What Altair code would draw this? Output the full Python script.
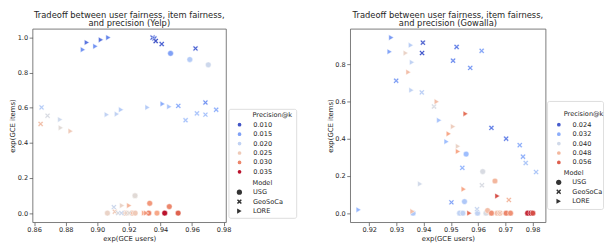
import altair as alt
import pandas as pd

# ---------------- Yelp ----------------
yelp_model = (["USG"] * 15 + ["GeoSoCa"] * 19 + ["LORE"] * 18)
yelp_x = [0.9464, 0.9586, 0.9703, 0.9239, 0.9332, 0.9456, 0.9064, 0.9173, 0.9188, 0.9219,
          0.9240, 0.9326, 0.9378, 0.9427, 0.9512,
          0.9350, 0.9362, 0.9370, 0.9408, 0.9622, 0.8647, 0.8685, 0.8641, 0.9513, 0.9559,
          0.9631, 0.9685, 0.9685, 0.9753, 0.9105, 0.9111, 0.9132, 0.9153, 0.9202,
          0.8909, 0.8934, 0.8988, 0.9023, 0.9070, 0.8765, 0.8769, 0.8831, 0.9060, 0.9124,
          0.9151, 0.9318, 0.9414, 0.9456, 0.9157, 0.9202, 0.9297, 0.9310]
yelp_y = [0.910, 0.875, 0.845, 0.099, 0.056, 0.037, 0.000, 0.000, 0.000, 0.000,
          0.000, 0.000, 0.000, 0.000, 0.000,
          1.000, 0.995, 0.980, 0.963, 0.938, 0.602, 0.555, 0.508, 0.611, 0.529,
          0.568, 0.630, 0.561, 0.589, 0.034, 0.008, 0.000, 0.000, 0.000,
          0.931, 0.972, 0.950, 0.987, 1.000, 0.533, 0.486, 0.467, 0.561, 0.564,
          0.589, 0.602, 0.622, 0.606, 0.043, 0.043, 0.000, 0.000]
yelp_prec = [0.015, 0.019, 0.021, 0.023, 0.029, 0.030, 0.024, 0.025, 0.024, 0.027,
             0.025, 0.030, 0.028, 0.035, 0.032,
             0.011, 0.012, 0.010, 0.011, 0.011, 0.019, 0.022, 0.026, 0.016, 0.018,
             0.018, 0.014, 0.018, 0.016, 0.021, 0.025, 0.022, 0.021, 0.023,
             0.014, 0.012, 0.014, 0.012, 0.013, 0.021, 0.023, 0.025, 0.020, 0.020,
             0.019, 0.019, 0.016, 0.018, 0.024, 0.027, 0.028, 0.029]

# ---------------- Gowalla ----------------
gow_model = (["USG"] * 18 + ["GeoSoCa"] * 21 + ["LORE"] * 21)
gow_x = [0.9556, 0.9617, 0.9662, 0.9550, 0.9361, 0.9532, 0.9544, 0.9598, 0.9629, 0.9635,
         0.9649, 0.9670, 0.9680, 0.9703, 0.9719, 0.9782, 0.9794, 0.9801,
         0.9397, 0.9394, 0.9521, 0.9613, 0.9508, 0.9571, 0.9299, 0.9393, 0.9438, 0.9649,
         0.9703, 0.9753, 0.9765, 0.9775, 0.9813, 0.9542, 0.9614, 0.9713, 0.9502, 0.9596,
         0.9680,
         0.9281, 0.9275, 0.9353, 0.9334, 0.9357, 0.9344, 0.9355, 0.9448, 0.9457, 0.9508,
         0.9492, 0.9484, 0.9526, 0.9526, 0.9554, 0.9387, 0.9547, 0.9671, 0.9161, 0.9359,
         0.9568]
gow_y = [0.318, 0.224, 0.173, 0.062, 0.000, 0.000, 0.000, 0.000, 0.000, 0.014,
         0.000, 0.000, 0.000, 0.000, 0.000, 0.000, 0.000, 0.000,
         0.918, 0.862, 0.895, 0.874, 0.821, 0.782, 0.713, 0.650, 0.574, 0.459,
         0.401, 0.366, 0.304, 0.270, 0.221, 0.244, 0.150, 0.071, 0.058, 0.021,
         0.000,
         0.945, 0.869, 0.904, 0.862, 0.812, 0.759, 0.662, 0.600, 0.500, 0.466,
         0.427, 0.385, 0.360, 0.332, 0.535, 0.157, 0.129, 0.092, 0.018, 0.009,
         0.000]
gow_prec = [0.034, 0.041, 0.048, 0.036, 0.036, 0.038, 0.038, 0.038, 0.041, 0.047,
            0.052, 0.047, 0.048, 0.053, 0.052, 0.059, 0.060, 0.057,
            0.024, 0.024, 0.027, 0.031, 0.028, 0.030, 0.030, 0.037, 0.041, 0.027,
            0.027, 0.032, 0.032, 0.036, 0.036, 0.033, 0.041, 0.048, 0.031, 0.039,
            0.046,
            0.030, 0.031, 0.037, 0.044, 0.038, 0.047, 0.038, 0.047, 0.035, 0.045,
            0.050, 0.034, 0.044, 0.050, 0.055, 0.040, 0.050, 0.057, 0.033, 0.047,
            0.055]

yelp_legend_values = [0.010, 0.015, 0.020, 0.025, 0.030, 0.035]
gow_legend_values = [0.024, 0.032, 0.040, 0.048, 0.056]
models = ["USG", "GeoSoCa", "LORE"]
legend_titles = ["Precision@k", "Model"]

FONT = "DejaVu Sans"
TXT = "#262626"
coolwarm_pos = [0, 1/7, 2/7, 3/7, 0.5, 4/7, 5/7, 6/7, 1]
coolwarm_col = ["#3b4cc0", "#6788ee", "#9abbff", "#c9d7f0", "#dddddd",
                "#edd1c2", "#f7a889", "#e26952", "#b40426"]
XPATH = ("M-0.95,-0.55L-0.55,-0.95L0,-0.4L0.55,-0.95L0.95,-0.55L0.4,0L0.95,0.55"
         "L0.55,0.95L0,0.4L-0.55,0.95L-0.95,0.55L-0.4,0Z")


def panel(model, xs, ys, prec, lo, hi, legvals, name, xdom, ydom, xticks, yticks,
          w, cleg, sleg, frame, ttl):
    df = pd.DataFrame({"model": model, "x": xs, "y": ys, "prec": prec})
    cscale = alt.Scale(domain=[lo + f * (hi - lo) for f in coolwarm_pos],
                       range=coolwarm_col, interpolate="rgb")
    pts = alt.Chart(df).mark_point(filled=True, size=34, opacity=1,
                                   stroke="white", strokeWidth=0.5).encode(
        x=alt.X("x:Q", title="exp(GCE users)",
                scale=alt.Scale(domain=xdom, nice=False, zero=False),
                axis=alt.Axis(values=xticks, format=".2f", labelFlush=False,
                              labelOverlap=False)),
        y=alt.Y("y:Q", title="exp(GCE items)",
                scale=alt.Scale(domain=ydom, nice=False, zero=False),
                axis=alt.Axis(values=yticks, format=".1f", labelFlush=False,
                              labelOverlap=False)),
        color=alt.Color("prec:Q", scale=cscale,
                        legend=alt.Legend(type="symbol", values=legvals, format=".3f",
                                          title=None, symbolType="circle",
                                          orient="none", legendX=cleg[0],
                                          legendY=cleg[1])),
        shape=alt.Shape("model:N",
                        scale=alt.Scale(domain=models,
                                        range=["circle", XPATH, "triangle-right"]),
                        legend=alt.Legend(title=None, orient="none",
                                          legendX=sleg[0], legendY=sleg[1],
                                          symbolFillColor="#333333",
                                          symbolStrokeColor="#333333",
                                          symbolStrokeWidth=0)),
    )
    box = alt.Chart(pd.DataFrame({"f": [0]})).mark_rect(
        fill="white", stroke="#d5d5d5", strokeWidth=0.8, cornerRadius=2
    ).encode(x=alt.value(frame[0]), x2=alt.value(frame[1]),
             y=alt.value(frame[2]), y2=alt.value(frame[3]))
    t1 = alt.Chart(pd.DataFrame({"t": [legend_titles[0]]})).mark_text(
        align="left", baseline="middle", font=FONT, fontSize=6.7, color=TXT
    ).encode(text="t:N", x=alt.value(ttl[0]), y=alt.value(ttl[1]))
    t2 = alt.Chart(pd.DataFrame({"t": [legend_titles[1]]})).mark_text(
        align="left", baseline="middle", font=FONT, fontSize=6.7, color=TXT
    ).encode(text="t:N", x=alt.value(ttl[0]), y=alt.value(ttl[2]))
    return alt.layer(box, t1, t2, pts).properties(
        width=w, height=197,
        title=alt.TitleParams(["Tradeoff between user fairness, item fairness,",
                               "and precision (%s)" % name]))


left = panel(yelp_model, yelp_x, yelp_y, yelp_prec, 0.0095, 0.0355, yelp_legend_values,
             "Yelp", [0.859, 0.9815], [-0.052, 1.05],
             [0.86, 0.88, 0.90, 0.92, 0.94, 0.96, 0.98], [0.0, 0.2, 0.4, 0.6, 0.8, 1.0],
             197, (207.3, 94.2), (207.3, 162.9), (200, 269, 82, 193), (224, 88, 157))
right = panel(gow_model, gow_x, gow_y, gow_prec, 0.0225, 0.061, gow_legend_values,
              "Gowalla", [0.913, 0.9848], [-0.049, 0.9925],
              [0.92, 0.93, 0.94, 0.95, 0.96, 0.97, 0.98], [0.0, 0.2, 0.4, 0.6, 0.8],
              199, (209, 94.2), (209, 152.9), (201, 258, 74, 184), (217.5, 87.3, 147.3))

chart = alt.hconcat(left, right, spacing=28.5).resolve_scale(
    color="independent", shape="independent", x="independent", y="independent"
).resolve_legend(color="independent", shape="independent").properties(
    padding={"left": 0, "top": 0, "right": 0, "bottom": 0}
).configure_view(stroke="#5a5a5a", strokeWidth=0.8).configure_axis(
    domain=False, grid=False, ticks=True, tickColor="#5a5a5a", tickSize=3.5,
    tickWidth=0.8, labelFontSize=6.7, labelColor=TXT, labelFont=FONT,
    titleFont=FONT, titleFontSize=7, titleFontWeight="normal", titleColor=TXT,
    labelPadding=1, titlePadding=1.5
).configure_axisY(labelPadding=1.5, titlePadding=1.5).configure_legend(
    labelFont=FONT, labelFontSize=6.7, labelColor=TXT, symbolSize=28,
    rowPadding=1.6, clipHeight=7, padding=0, labelOffset=10.5
).configure_title(
    font=FONT, fontSize=8.5, fontWeight="normal", color=TXT, lineHeight=9,
    offset=1, anchor="middle"
)

chart.save("out.html", embed_options={"renderer": "svg", "actions": False})
